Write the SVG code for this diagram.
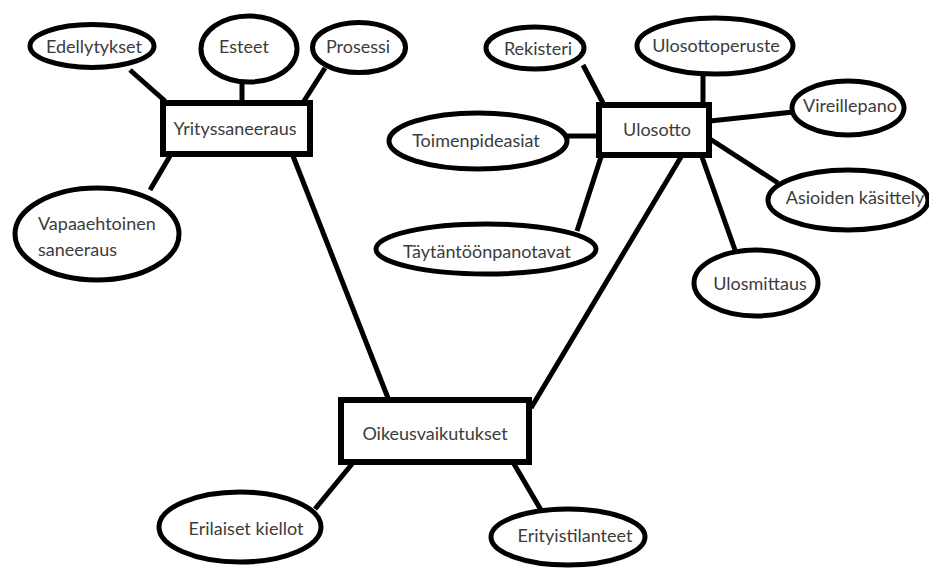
<svg xmlns="http://www.w3.org/2000/svg" width="929" height="568" viewBox="0 0 929 568">
<style>
.e{fill:#fff;stroke:#000;stroke-width:5}
.r{fill:#fff;stroke:#000;stroke-width:6}
.c line{stroke:#000;stroke-width:5;stroke-linecap:butt}
text{font-family:Lato,"Open Sans",sans-serif;font-size:18px;fill:#3c3c3c;text-anchor:middle;dominant-baseline:central}
.l{text-anchor:start}
</style>
<rect width="929" height="568" fill="#fff"/>
<g class="c" id="connectors">
<line x1="130" y1="70" x2="165" y2="101"/>
<line x1="242" y1="81" x2="242" y2="101"/>
<line x1="325" y1="68" x2="304" y2="101"/>
<line x1="150" y1="190" x2="170" y2="156"/>
<line x1="293" y1="156" x2="388" y2="398"/>
<line x1="583" y1="65" x2="603" y2="103"/>
<line x1="703" y1="73" x2="703" y2="103"/>
<line x1="710" y1="121" x2="793" y2="112"/>
<line x1="566" y1="136" x2="598" y2="136"/>
<line x1="710" y1="139" x2="778" y2="183"/>
<line x1="601" y1="157" x2="577" y2="231"/>
<line x1="702" y1="157" x2="735" y2="250"/>
<line x1="681" y1="157" x2="531" y2="408"/>
<line x1="352" y1="464" x2="315" y2="509"/>
<line x1="514" y1="464" x2="541" y2="510"/>
</g>
<g id="edellytykset"><ellipse class="e" cx="92" cy="46" rx="62" ry="21.5"/><text x="94" y="46">Edellytykset</text></g>
<g id="esteet"><ellipse class="e" cx="249" cy="49" rx="48" ry="33"/><text x="244" y="46">Esteet</text></g>
<g id="prosessi"><ellipse class="e" cx="359" cy="47.5" rx="46.5" ry="25"/><text x="358" y="46">Prosessi</text></g>
<g id="yrityssaneeraus"><rect class="r" x="163" y="103" width="147" height="51"/><text x="235" y="128">Yrityssaneeraus</text></g>
<g id="vapaaehtoinen"><ellipse class="e" cx="97" cy="234" rx="82" ry="46"/><text class="l" x="38" y="223">Vapaaehtoinen</text><text class="l" x="38" y="249">saneeraus</text></g>
<g id="rekisteri"><ellipse class="e" cx="535" cy="48" rx="49" ry="21"/><text x="538" y="48">Rekisteri</text></g>
<g id="ulosottoperuste"><ellipse class="e" cx="715" cy="46" rx="78" ry="28"/><text x="716" y="45">Ulosottoperuste</text></g>
<g id="vireillepano"><ellipse class="e" cx="848" cy="108" rx="56" ry="27"/><text x="850" y="105">Vireillepano</text></g>
<g id="toimenpideasiat"><ellipse class="e" cx="478" cy="141" rx="89" ry="28"/><text x="476" y="140">Toimenpideasiat</text></g>
<g id="ulosotto"><rect class="r" x="599" y="105" width="110" height="50"/><text x="657" y="129">Ulosotto</text></g>
<g id="asioiden"><ellipse class="e" cx="848" cy="200" rx="80" ry="30"/><text x="855" y="197">Asioiden käsittely</text></g>
<g id="taytantoonpanotavat"><ellipse class="e" cx="486" cy="249" rx="110" ry="25"/><text x="487" y="251">Täytäntöönpanotavat</text></g>
<g id="ulosmittaus"><ellipse class="e" cx="756" cy="283" rx="62" ry="33"/><text x="760" y="283">Ulosmittaus</text></g>
<g id="oikeusvaikutukset"><rect class="r" x="341" y="400" width="188" height="62"/><text x="435" y="433">Oikeusvaikutukset</text></g>
<g id="erilaiset"><ellipse class="e" cx="240" cy="527" rx="81" ry="35"/><text x="246" y="528">Erilaiset kiellot</text></g>
<g id="erityistilanteet"><ellipse class="e" cx="568" cy="537" rx="77" ry="28"/><text x="575" y="535">Erityistilanteet</text></g>
</svg>
